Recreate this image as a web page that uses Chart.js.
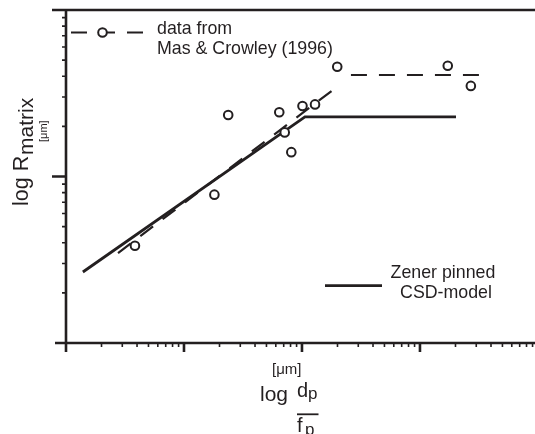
<!DOCTYPE html>
<html>
<head>
<meta charset="utf-8">
<script src="https://cdn.jsdelivr.net/npm/chart.js@4.4.0/dist/chart.umd.min.js"></script>
<style>
  html, body { margin: 0; padding: 0; background: #fff; }
  #wrap { position: relative; width: 535px; height: 434px; }
  #wrap canvas, #wrap svg { position: absolute; left: 0; top: 0; }
  svg text { font-family: "Liberation Sans", Arial, sans-serif; fill: #231f20; }
</style>
</head>
<body>
<div id="wrap">
  <canvas id="zenerChart" width="535" height="434"></canvas>
  <svg width="535" height="434">
    <!-- legend texts -->
    <text x="157" y="34" font-size="17.8">data from</text>
    <text x="157" y="54" font-size="17.8">Mas &amp; Crowley (1996)</text>
    <text x="443" y="278" font-size="17.8" text-anchor="middle">Zener pinned</text>
    <text x="446" y="297.5" font-size="17.8" text-anchor="middle">CSD-model</text>
    <!-- y title -->
    <text transform="translate(28,206) rotate(-90)" font-size="21.5">log R</text>
    <text transform="translate(33,155) rotate(-90)" font-size="21">matrix</text>
    <text transform="translate(47,142) rotate(-90)" font-size="11">[μm]</text>
    <!-- x title -->
    <text x="272" y="373.5" font-size="15">[μm]</text>
    <text x="260" y="401" font-size="21">log</text>
    <text x="297" y="396.5" font-size="20">d</text>
    <text x="308" y="399" font-size="17">p</text>
    <line x1="297" y1="414.3" x2="318.5" y2="414.3" stroke="#231f20" stroke-width="1.8"/>
    <text x="297" y="431.5" font-size="20">f</text>
    <text x="305" y="435" font-size="17">p</text>
  </svg>
</div>
<script>

// circles: data from Mas & Crowley (1996)
const dataX = [0.384, 1.81, 2.37, 6.42, 7.14, 8.12, 10.1, 12.9, 19.9, 172, 270];
const dataY = [3.84, 7.78, 23.4, 24.3, 18.4, 14.0, 26.5, 27.1, 45.6, 46.3, 35.0];

// dashed fit through the data (null = break in the line)
const fitX = [0.276, 18.7, null, 26.0, 316];
const fitY = [3.47, 33.5, null, 40.7, 40.7];

// Zener pinned CSD-model
const modelX = [0.139, 10.6, 202];
const modelY = [2.67, 22.8, 22.8];

// axis ranges and tick decades (no tick labels in the figure)
const xRange = [0.1, 944];
const yRange = [1, 100];
const xDecades = [0.1, 1, 10, 100];
const yDecades = [1, 10];
const minorSteps = [2, 3, 4, 5, 6, 7, 8, 9];

const ink = '#231f20';

function toPoints(xs, ys) {
    return xs.map((x, i) => ({x: x, y: ys[i]}));
}

const framePlugin = {
    id: 'framePlugin',
    afterDatasetsDraw(chart) {
        const ctx = chart.ctx;
        const xs = chart.scales.x;
        const ys = chart.scales.y;
        const a = chart.chartArea;
        ctx.save();
        ctx.strokeStyle = ink;
        ctx.lineCap = 'butt';

        // axis lines
        ctx.lineWidth = 2.6;
        ctx.beginPath();
        ctx.moveTo(a.left, a.top - 1.3);
        ctx.lineTo(a.left, a.bottom + 1.3);
        ctx.moveTo(a.left - 14, a.top);
        ctx.lineTo(a.right, a.top);
        ctx.moveTo(a.left - 11, a.bottom);
        ctx.lineTo(a.right, a.bottom);
        ctx.stroke();

        // major ticks
        ctx.beginPath();
        xDecades.forEach(d => {
            const p = xs.getPixelForValue(d);
            ctx.moveTo(p, a.bottom);
            ctx.lineTo(p, a.bottom + 9);
        });
        yDecades.slice(1).forEach(d => {
            const p = ys.getPixelForValue(d);
            ctx.moveTo(a.left, p);
            ctx.lineTo(a.left - 14, p);
        });
        ctx.stroke();

        // minor ticks
        ctx.lineWidth = 1.6;
        ctx.beginPath();
        xDecades.forEach(d => {
            minorSteps.forEach(m => {
                if (d * m > xs.max) return;
                const p = xs.getPixelForValue(d * m);
                ctx.moveTo(p, a.bottom);
                ctx.lineTo(p, a.bottom + 4);
            });
        });
        yDecades.forEach(d => {
            minorSteps.forEach(m => {
                const p = ys.getPixelForValue(d * m);
                ctx.moveTo(a.left, p);
                ctx.lineTo(a.left - 4, p);
            });
        });
        ctx.stroke();

        // legend symbols
        ctx.lineWidth = 2.2;
        ctx.setLineDash([16, 12]);
        ctx.beginPath();
        ctx.moveTo(71, 32.5);
        ctx.lineTo(145, 32.5);
        ctx.stroke();
        ctx.setLineDash([]);
        ctx.beginPath();
        ctx.arc(102.5, 32.5, 4.3, 0, Math.PI * 2);
        ctx.fillStyle = '#fff';
        ctx.fill();
        ctx.lineWidth = 2;
        ctx.stroke();

        ctx.lineWidth = 2.8;
        ctx.beginPath();
        ctx.moveTo(325, 285.7);
        ctx.lineTo(382, 285.7);
        ctx.stroke();
        ctx.restore();
    }
};

new Chart("zenerChart", {
    type: "scatter",
    data: {
        datasets: [{
            label: "data from Mas & Crowley (1996)",
            data: toPoints(dataX, dataY),
            pointStyle: "circle",
            pointRadius: 4.3,
            pointBorderWidth: 2,
            borderColor: ink,
            backgroundColor: "#fff",
            showLine: false
        }, {
            label: "fit",
            data: toPoints(fitX, fitY),
            showLine: true,
            spanGaps: false,
            borderColor: ink,
            borderWidth: 2.2,
            borderDash: [16, 12],
            pointRadius: 0
        }, {
            label: "Zener pinned CSD-model",
            data: toPoints(modelX, modelY),
            showLine: true,
            borderColor: ink,
            borderWidth: 2.8,
            pointRadius: 0
        }]
    },
    options: {
        responsive: false,
        animation: false,
        devicePixelRatio: 1,
        layout: { autoPadding: false, padding: { top: 10, right: 0, left: 0, bottom: 0 } },
        plugins: {
            legend: { display: false },
            tooltip: { enabled: false }
        },
        scales: {
            x: {
                type: "logarithmic",
                min: xRange[0],
                max: xRange[1],
                ticks: { display: false },
                grid: { display: false },
                border: { display: false },
                afterFit: s => { s.height = 91; }
            },
            y: {
                type: "logarithmic",
                min: yRange[0],
                max: yRange[1],
                ticks: { display: false },
                grid: { display: false },
                border: { display: false },
                afterFit: s => { s.width = 66; }
            }
        }
    },
    plugins: [framePlugin]
});
</script>
</body>
</html>
